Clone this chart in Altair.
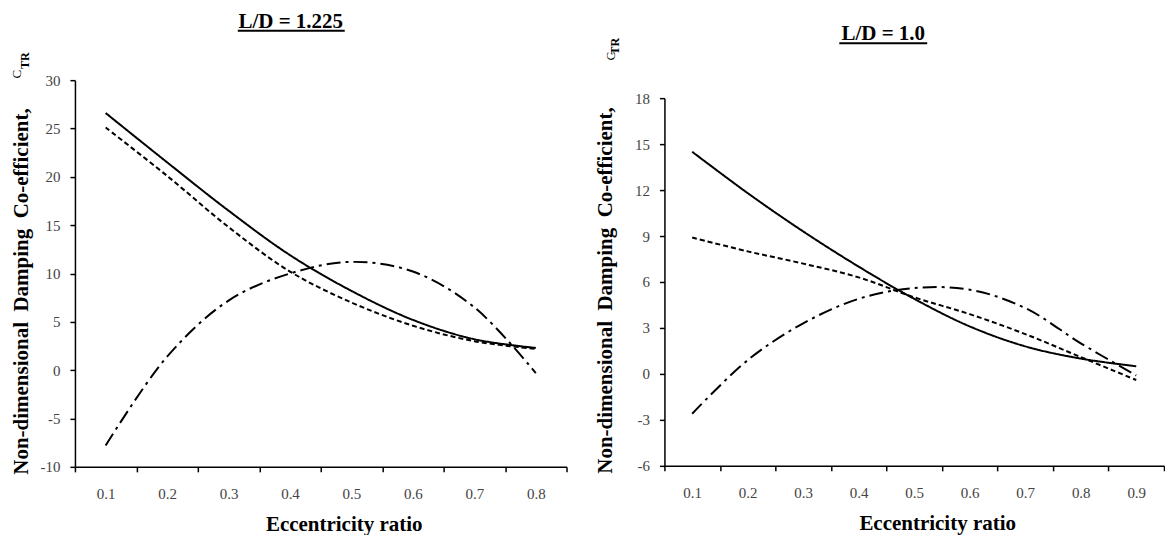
import altair as alt
import pandas as pd

FONT = "Liberation Serif, Times New Roman, serif"

# ---------------- data ----------------
ecc_left = ["0.1", "0.2", "0.3", "0.4", "0.5", "0.6", "0.7", "0.8"]
left_solid = [26.6, 21.5, 16.5, 11.9, 8.2, 5.2, 3.2, 2.3]
left_dashed = [25.1, 20.1, 14.8, 10.2, 7.0, 4.6, 3.0, 2.2]
left_dashdot = [-7.8, 1.4, 7.2, 10.0, 11.2, 10.2, 6.5, -0.3]

ecc_right = ["0.1", "0.2", "0.3", "0.4", "0.5", "0.6", "0.7", "0.8", "0.9"]
right_solid = [14.5, 11.8, 9.3, 7.0, 4.9, 3.1, 1.8, 1.0, 0.5]
right_dashed = [8.9, 8.0, 7.2, 6.3, 5.0, 3.9, 2.6, 1.1, -0.4]
right_dashdot = [-2.6, 0.9, 3.3, 4.9, 5.6, 5.5, 4.3, 2.0, -0.1]

series_names = ["solid", "dashed", "dashdot"]
dash_patterns = [[1, 0], [5, 3], [14, 5, 3, 5]]

left_ticks = [-10, -5, 0, 5, 10, 15, 20, 25, 30]
right_ticks = [-6, -3, 0, 3, 6, 9, 12, 15, 18]

panel_titles = ["L/D = 1.225", "L/D = 1.0"]
x_title = "Eccentricity ratio"
y_title = "Non-dimensional \u00a0Damping \u00a0Co-efficient,"
c_label = "C"
tr_label = "TR"


def panel(cats, solid, dashed, dashdot, ticks, width, height, yrange,
          title, title_x, title_y, ul_x1, ul_x2, ul_y,
          c_pos, tr_pos, y_title_y, y_title_pad):
    n = len(cats)
    df = pd.DataFrame({
        "ecc": cats * 3,
        "value": solid + dashed + dashdot,
        "series": [series_names[0]] * n + [series_names[1]] * n + [series_names[2]] * n,
    })
    xscale = alt.Scale(type="band", paddingInner=0, paddingOuter=0)
    yscale_kwargs = dict(domain=[ticks[0], ticks[-1]], nice=False, zero=False)
    if yrange is not None:
        yscale_kwargs["range"] = yrange
    lines = alt.Chart(df).mark_line(
        color="black", strokeWidth=2, interpolate="catmull-rom"
    ).encode(
        x=alt.X("ecc:O", sort=cats, scale=xscale, bandPosition=0.5,
                axis=alt.Axis(title=x_title, tickBand="extent", labelAngle=0,
                              labelPadding=15, titlePadding=12,
                              titleX=width / 2 + 23)),
        y=alt.Y("value:Q", scale=alt.Scale(**yscale_kwargs),
                axis=alt.Axis(values=ticks, title=y_title, labelPadding=10,
                              labelExpr="'' + datum.value",
                              titlePadding=y_title_pad, titleY=y_title_y)),
        strokeDash=alt.StrokeDash("series:N",
                                  scale=alt.Scale(domain=series_names, range=dash_patterns),
                                  legend=None),
    )
    one = pd.DataFrame({"t": [title]})
    ttl = alt.Chart(one).mark_text(
        font=FONT, fontSize=21, fontWeight="bold", color="black",
        align="center", baseline="alphabetic"
    ).encode(text="t:N", x=alt.value(title_x), y=alt.value(title_y))
    ul = alt.Chart(one).mark_rule(color="black", strokeWidth=2).encode(
        x=alt.value(ul_x1), x2=alt.value(ul_x2), y=alt.value(ul_y))
    ctext = alt.Chart(pd.DataFrame({"t": [c_label]})).mark_text(
        font=FONT, fontSize=13, color="black", angle=270,
        align="center", baseline="middle"
    ).encode(text="t:N", x=alt.value(c_pos[0]), y=alt.value(c_pos[1]))
    trtext = alt.Chart(pd.DataFrame({"t": [tr_label]})).mark_text(
        font=FONT, fontSize=12, fontWeight="bold", color="black", angle=270,
        align="center", baseline="middle"
    ).encode(text="t:N", x=alt.value(tr_pos[0]), y=alt.value(tr_pos[1]))
    return alt.layer(lines, ttl, ul, ctext, trtext).properties(width=width, height=height)


left = panel(ecc_left, left_solid, left_dashed, left_dashdot, left_ticks,
             492, 387, None,
             panel_titles[0], 216, -52, 163, 270, -49.5,
             (-57.5, -6), (-49.5, -19.5), 211, 8)
right = panel(ecc_right, right_solid, right_dashed, right_dashdot, right_ticks,
              500, 386, [386, 18],
              panel_titles[1], 219, -40, 175, 263, -37,
              (-53, -24), (-49.5, -34), 210, 19)

chart = alt.hconcat(left, right, spacing=98, bounds="flush").properties(
    padding={"left": 3, "top": 3, "right": 0, "bottom": 0}
).configure_view(strokeWidth=0).configure_axis(
    grid=False,
    domainColor="black", domainWidth=1.5,
    tickColor="black", tickWidth=1.5, tickSize=5,
    labelFont=FONT, labelFontSize=15, labelColor="#444444",
    titleFont=FONT, titleFontSize=21, titleFontWeight="bold", titleColor="black",
)

chart.save("out.html", embed_options={"renderer": "svg", "actions": False})
